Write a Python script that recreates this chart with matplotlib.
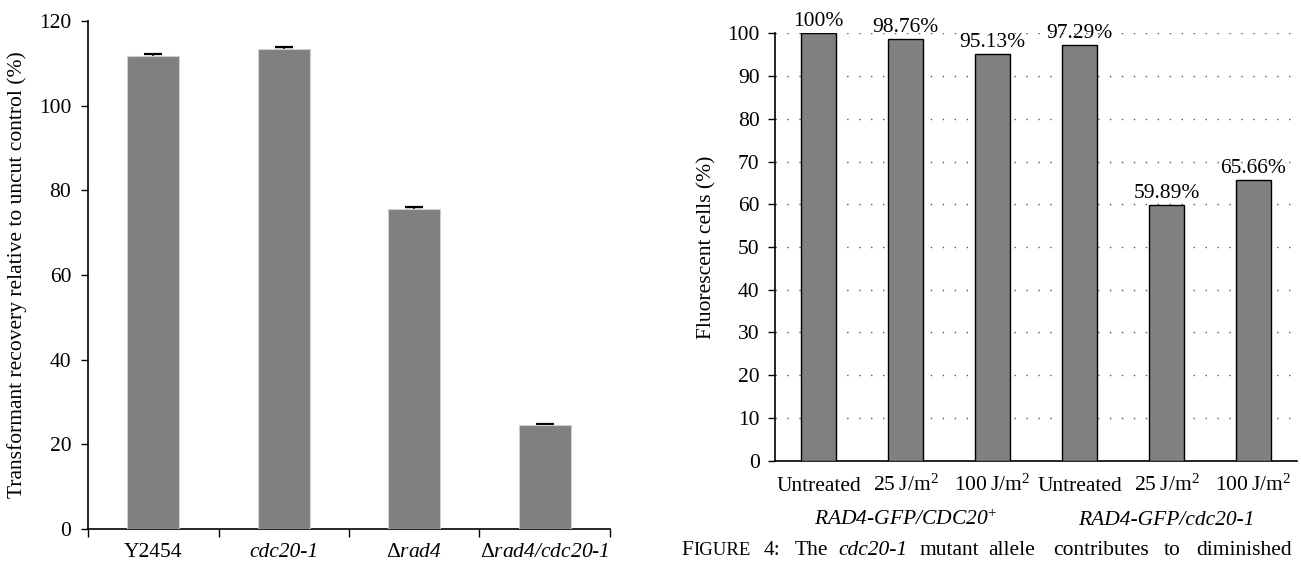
import numpy as np
import matplotlib.pyplot as plt
from matplotlib.transforms import blended_transform_factory

plt.rcParams['font.family'] = ['Liberation Serif', 'DejaVu Serif']
plt.rcParams['mathtext.fontset'] = 'custom'
plt.rcParams['mathtext.rm'] = 'Liberation Serif'
plt.rcParams['mathtext.it'] = 'Liberation Serif:italic'
plt.rcParams['font.size'] = 15.5

#%%----------------- data

# left panel: transformant recovery
strains = ['Y2454', 'cdc20-1', '$\\mathrm{\\Delta}$rad4', '$\\mathrm{\\Delta}$rad4/cdc20-1']
strain_italic = [False, True, True, True]
recovery = [111.8, 113.5, 75.7, 24.6]
recovery_err = [0.45, 0.4, 0.45, 0.1]

# right panel: fluorescent cells
treatments = ['Untreated', '25\u2009J/m$^2$', '100\u2009J/m$^2$',
              'Untreated', '25\u2009J/m$^2$', '100\u2009J/m$^2$']
fluor = [100, 98.76, 95.13, 97.29, 59.89, 65.66]
fluor_labels = ['100%', '98.76%', '95.13%', '97.29%', '59.89%', '65.66%']
groups = ['RAD4-GFP/CDC20$^{+}$', 'RAD4-GFP/cdc20-1']

W, H = 1301, 565
fig = plt.figure(figsize=(W / 100, H / 100), dpi=100)

#%%----------------- left panel
ax1 = fig.add_axes([88 / W, 1 - 529 / H, 522 / W, 508 / H])
x1 = np.arange(len(strains))
ax1.errorbar(x1, recovery, yerr=recovery_err, fmt='none', ecolor='k',
             elinewidth=1.2, capsize=6.5, capthick=1.6, zorder=2)
ax1.bar(x1, recovery, width=0.4, color='#808080', edgecolor='#d0d0d0',
        linewidth=0.8, zorder=3)
ax1.set_xlim(-0.5, len(strains) - 0.5)
ax1.set_ylim(0, 120)
ax1.set_yticks(np.arange(0, 121, 20))
ax1.set_xticks(np.arange(-0.5, len(strains), 1))
ax1.set_xticklabels([])
ax1.set_xticks(x1, minor=True)
ax1.set_xticklabels(strains, minor=True)
for lab, it in zip(ax1.get_xticklabels(minor=True), strain_italic):
    if it:
        lab.set_fontstyle('italic')
ax1.tick_params(axis='x', which='major', direction='out', length=6, width=1)
ax1.tick_params(axis='x', which='minor', length=0, pad=10)
ax1.tick_params(axis='y', direction='out', length=5, width=1, pad=7)
for s in ['top', 'right']:
    ax1.spines[s].set_visible(False)
ax1.spines['left'].set_linewidth(1.2)
ax1.spines['bottom'].set_linewidth(1.2)
ax1.set_ylabel('Transformant recovery relative to uncut control (%)')
ax1.yaxis.set_label_coords(-0.117, 0.5)

#%%----------------- right panel
ax2 = fig.add_axes([775 / W, 1 - 460.7 / H, 522 / W, 427.4 / H])
x2 = np.arange(len(treatments))
ax2.bar(x2, fluor, width=0.41, color='#808080', edgecolor='k',
        linewidth=1.0, zorder=3)
for xi, v, t in zip(x2, fluor, fluor_labels):
    ax2.annotate(t, (xi, v), xytext=(0, 1.5), textcoords='offset points',
                 ha='center', va='bottom', annotation_clip=False)
ax2.set_xlim(-0.5, len(treatments) - 0.5)
ax2.set_ylim(0, 100)
ax2.set_yticks(np.arange(0, 101, 10))
ax2.set_xticks(x2)
ax2.set_xticklabels(treatments)
for lab in ax2.get_xticklabels():
    lab.set_verticalalignment('baseline')
ax2.tick_params(axis='x', length=0, pad=22)
ax2.tick_params(axis='y', direction='out', length=5, width=1, pad=6)
for yv in np.arange(10, 101, 10):
    ax2.axhline(yv, color='#555555', lw=1.0, linestyle=(0, (1, 7.6)), zorder=1)
for s in ['top', 'right']:
    ax2.spines[s].set_visible(False)
ax2.spines['left'].set_linewidth(1.2)
ax2.spines['bottom'].set_linewidth(1.2)
ax2.set_ylabel('Fluorescent cells (%)')
ax2.yaxis.set_label_coords(-0.113, 0.5)

tr = blended_transform_factory(ax2.transData, ax2.transAxes)
ax2.text(1, -0.150, groups[0], transform=tr, ha='center', va='baseline', fontstyle='italic')
ax2.text(4, -0.150, groups[1], transform=tr, ha='center', va='baseline', fontstyle='italic')

#%%----------------- caption fragment (clipped at right edge)
cap_y = 1 - 555 / H
words = [('F', 681, 15.5, 'normal'), ('IGURE', 693, 13.5, 'normal'), ('4:', 764, 15.5, 'normal'),
         ('The', 795, 15.5, 'normal'), ('cdc20-1', 838, 15.5, 'italic'), ('mutant', 919, 15.5, 'normal'),
         ('allele', 988, 15.5, 'normal'), ('contributes', 1053, 15.5, 'normal'),
         ('to', 1164, 15.5, 'normal'), ('diminished', 1196, 15.5, 'normal')]
for w, xp, fs, st in words:
    fig.text(xp / W, cap_y, w, fontsize=fs, fontstyle=st, ha='left', va='baseline')

fig.savefig('out.png', dpi=100)
